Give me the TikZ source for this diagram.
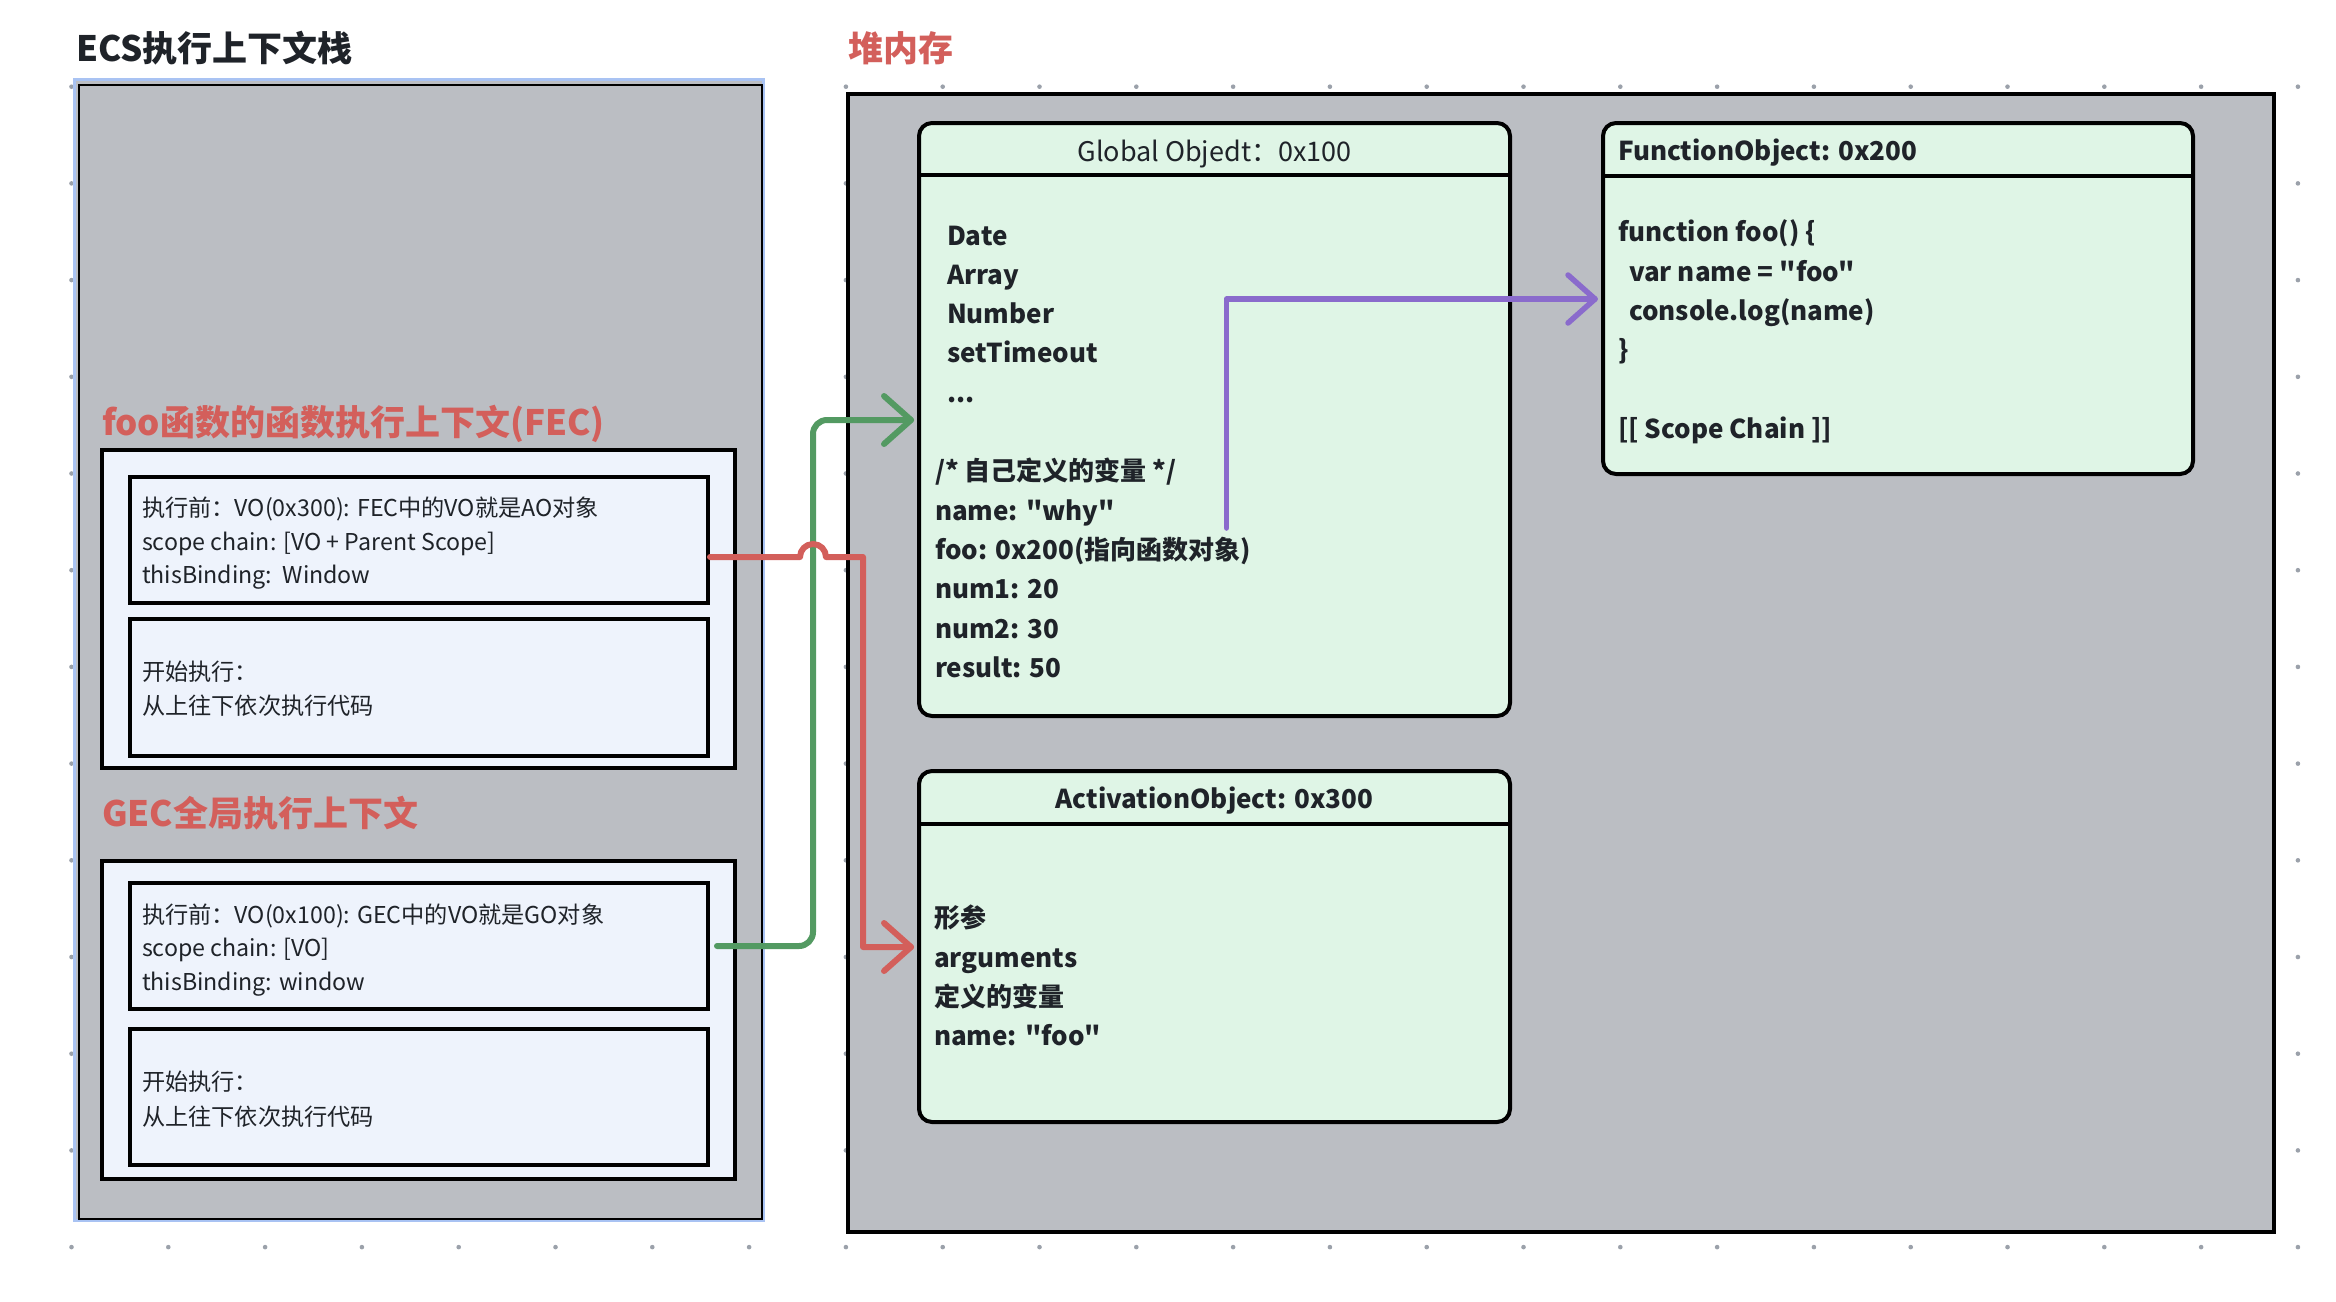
\documentclass[tikz,border=0pt]{standalone}
\usepackage{fontspec}
\setmainfont{Noto Sans CJK SC}[Ligatures=TeXOff]
\usetikzlibrary{calc}
\definecolor{panelgray}{HTML}{BBBEC3}
\definecolor{ltgreen}{HTML}{DFF5E6}
\definecolor{ltblue}{HTML}{EEF3FC}
\definecolor{redc}{HTML}{D35F5B}
\definecolor{greenc}{HTML}{539A62}
\definecolor{purplec}{HTML}{8A6BCC}
\definecolor{selblue}{HTML}{A9C3F3}
\definecolor{textc}{HTML}{1F2329}
\definecolor{dotc}{HTML}{9BA1AA}
\begin{document}
\begin{tikzpicture}[x=1pt,y=-1pt,
  panel/.style={draw=black, line width=4pt, fill=panelgray, inner sep=0pt, outer sep=0pt, anchor=north west},
  ctx/.style={draw=black, line width=4pt, fill=ltblue, inner sep=0pt, outer sep=0pt, anchor=north west},
  obj/.style={draw=black, line width=4pt, fill=ltgreen, rounded corners=13pt, inner sep=0pt, outer sep=0pt, anchor=north west},
  txt/.style={anchor=base west, inner sep=0pt, outer sep=0pt, text=textc},
  ctxtxt/.style={txt, font=\fontsize{23.2}{27}\selectfont},
  heaptxt/.style={txt, font=\fontsize{26}{30}\selectfont\bfseries},
  hdr/.style={anchor=base, inner sep=0pt, outer sep=0pt, text=textc, font=\fontsize{27}{31}\selectfont},
  ttl/.style={anchor=base west, inner sep=0pt, outer sep=0pt, font=\fontsize{35}{41}\selectfont\bfseries},
  conn/.style={line width=6pt, line cap=round, line join=round},
]
\useasboundingbox (0,0) rectangle (2336,1301);
\fill[white] (0,0) rectangle (2336,1301);
% canvas grid dots
\foreach \i in {0,...,23}{\foreach \j in {0,...,12}{\fill[dotc] ({71.5+96.8*\i},{86.7+96.7*\j}) circle (2.3);}}

% titles
\node[ttl, text=textc] (ecstitle) at (76,61) {ECS执行上下文栈};
\node[ttl, text=redc] (heaptitle) at (848,61) {堆内存};

% ECS stack container
\node[panel, draw=selblue, line width=3.5pt, minimum width=689pt, minimum height=1141pt] (ecsout) at (74.5,79.5) {};
\node[draw=black, line width=2.5pt, minimum width=683pt, minimum height=1134pt, anchor=north west, inner sep=0pt] (ecs) at (77.5,83.5) {};

% heap container
\node[panel, minimum width=1426pt, minimum height=1138pt] (heap) at (848,94) {};

% FEC
\node[ttl, text=redc] (feclabel) at (102,435) {foo函数的函数执行上下文(FEC)};
\node[ctx, minimum width=633pt, minimum height=318pt] (fec) at (102,450) {};
\node[ctx, minimum width=578pt, minimum height=126pt] (fecA) at (130,477) {};
\node[ctx, minimum width=578pt, minimum height=137pt] (fecB) at (130,619) {};
\node[ctxtxt] (fa1) at (142,516.7) {执行前：VO(0x300): FEC中的VO就是AO对象};
\node[ctxtxt] (fa2) at (142,550.2) {scope chain: [VO + Parent Scope]};
\node[ctxtxt] (fa3) at (142,583.7) {thisBinding:\ \ Window};
\node[ctxtxt] (fb1) at (142,680) {开始执行：};
\node[ctxtxt] (fb2) at (142,714) {从上往下依次执行代码};

% GEC
\node[ttl, text=redc] (geclabel) at (102,826) {GEC全局执行上下文};
\node[ctx, minimum width=633pt, minimum height=318pt] (gec) at (102,861) {};
\node[ctx, minimum width=578pt, minimum height=126pt] (gecA) at (130,883) {};
\node[ctx, minimum width=578pt, minimum height=136pt] (gecB) at (130,1029) {};
\node[ctxtxt] (ga1) at (142,923) {执行前：VO(0x100): GEC中的VO就是GO对象};
\node[ctxtxt] (ga2) at (142,956.7) {scope chain: [VO]};
\node[ctxtxt] (ga3) at (142,990.7) {thisBinding: window};
\node[ctxtxt] (gb1) at (142,1090.7) {开始执行：};
\node[ctxtxt] (gb2) at (142,1125) {从上往下依次执行代码};

% Global Object
\node[obj, minimum width=591pt, minimum height=593pt] (gobj) at (919,123) {};
\draw[line width=4pt] ([yshift=-52pt]gobj.north west) -- ([yshift=-52pt]gobj.north east);
\node[hdr] (ghdr) at (1214.5,161) {Global Objedt：0x100};
\node[heaptxt] (g1) at (947,245) {Date};
\node[heaptxt] (g2) at (947,284.3) {Array};
\node[heaptxt] (g3) at (947,323.6) {Number};
\node[heaptxt] (g4) at (947,362.9) {setTimeout};
\node[heaptxt] (g5) at (947,402.2) {...};
\node[heaptxt] (g6) at (935,480.8) {/* 自己定义的变量 */};
\node[heaptxt] (g7) at (935,520.1) {name: "why"};
\node[heaptxt] (g8) at (935,559.4) {foo: 0x200(指向函数对象)};
\node[heaptxt] (g9) at (935,598.7) {num1: 20};
\node[heaptxt] (g10) at (935,638) {num2: 30};
\node[heaptxt] (g11) at (935,677.3) {result: 50};

% Function Object
\node[obj, minimum width=590pt, minimum height=351pt] (fobj) at (1603,123) {};
\draw[line width=4pt] ([yshift=-53pt]fobj.north west) -- ([yshift=-53pt]fobj.north east);
\node[heaptxt] (fhdr) at (1618,160) {FunctionObject: 0x200};
\node[heaptxt] (f1) at (1618,241.7) {function foo() \{};
\node[heaptxt] (f2) at (1629,281) {var name = "foo"};
\node[heaptxt] (f3) at (1629,320.3) {console.log(name)};
\node[heaptxt] (f4) at (1618,359.6) {\}};
\node[heaptxt] (f5) at (1618,438.2) {[[ Scope Chain ]]};

% Activation Object
\node[obj, minimum width=591pt, minimum height=351pt] (aobj) at (919,771) {};
\draw[line width=4pt] ([yshift=-53pt]aobj.north west) -- ([yshift=-53pt]aobj.north east);
\node[hdr, font=\fontsize{26}{30}\selectfont\bfseries] (ahdr) at (1214.5,808) {ActivationObject: 0x300};
\node[heaptxt] (a1) at (934,927.7) {形参};
\node[heaptxt] (a2) at (934,967) {arguments};
\node[heaptxt] (a3) at (934,1006.3) {定义的变量};
\node[heaptxt] (a4) at (934,1045.6) {name: "foo"};

% connectors
\coordinate (gStart) at ($(gecA.east)+(9,0)$);
\coordinate (gArrow) at ($(gobj.north west)+(-8,297)$);
\coordinate (rStart) at ($(fecA.east)+(2,17)$);
\coordinate (rArrow) at ($(aobj.north west)+(-8,176)$);
\coordinate (pStart) at ($(gobj.north west)+(307.5,405)$);
\coordinate (pArrow) at ($(fobj.north west)+(-8,176)$);

\draw[conn, greenc, rounded corners=14pt] (gStart) -| ($(gArrow)+(-98,0)$) -- (gArrow);
\draw[conn, greenc] ($(gArrow)+(-27,-24)$) -- (gArrow) -- ($(gArrow)+(-27,24)$);

\draw[conn, redc] (rStart) -- ++(90,0) arc[start angle=180, end angle=360, radius=13] -- ++(37,0) |- (rArrow);
\draw[conn, redc] ($(rArrow)+(-27,-24)$) -- (rArrow) -- ($(rArrow)+(-27,24)$);

\draw[conn, purplec, line width=5.5pt] (pStart) |- (pArrow);
\draw[conn, purplec, line width=5.5pt] ($(pArrow)+(-27,-24)$) -- (pArrow) -- ($(pArrow)+(-27,24)$);
\end{tikzpicture}
\end{document}
